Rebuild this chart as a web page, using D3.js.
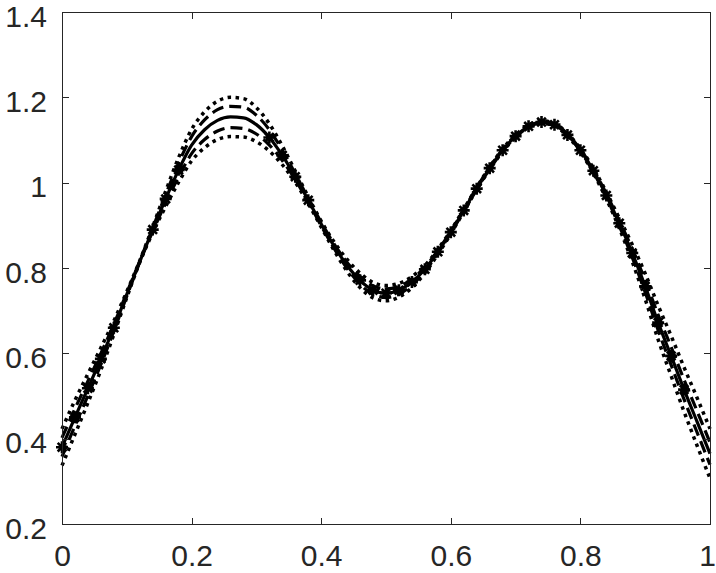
<!DOCTYPE html>
<html>
<head>
<meta charset="utf-8">
<script src="https://cdn.jsdelivr.net/npm/d3@7"></script>
<style>
  body { margin: 0; background: #fff; }
  text { font-family: "Liberation Sans", Arial, sans-serif; }
</style>
</head>
<body>
<div id="chart"></div>
<script>
// x positions of the curves
const xs = [0, 0.02, 0.04, 0.06, 0.08, 0.10, 0.12, 0.14, 0.16, 0.18,
  0.20, 0.22, 0.24, 0.26, 0.28, 0.30, 0.32, 0.34, 0.36, 0.38,
  0.40, 0.42, 0.44, 0.46, 0.48, 0.50, 0.52, 0.54, 0.56, 0.58,
  0.60, 0.62, 0.64, 0.66, 0.68, 0.70, 0.72, 0.74, 0.76, 0.78,
  0.80, 0.82, 0.84, 0.86, 0.88, 0.90, 0.92, 0.94, 0.96, 0.98, 1.00];

// solid line
const meanLine = [0.380, 0.450, 0.518, 0.587, 0.660, 0.738, 0.815, 0.890, 0.962, 1.030,
  1.088, 1.124, 1.146, 1.154, 1.152, 1.136, 1.106, 1.064, 1.014, 0.959,
  0.903, 0.851, 0.806, 0.771, 0.748, 0.741, 0.748, 0.767, 0.797, 0.838,
  0.884, 0.935, 0.986, 1.034, 1.076, 1.109, 1.132, 1.142, 1.136, 1.112,
  1.076, 1.028, 0.970, 0.905, 0.835, 0.757, 0.672, 0.594, 0.515, 0.440, 0.365];

// dashed lines
const dashUpper = [0.402, 0.470, 0.535, 0.600, 0.668, 0.742, 0.816, 0.894, 0.972, 1.046,
  1.108, 1.147, 1.171, 1.179, 1.177, 1.158, 1.124, 1.076, 1.021, 0.963,
  0.907, 0.856, 0.813, 0.780, 0.758, 0.751, 0.757, 0.774, 0.802, 0.841,
  0.886, 0.937, 0.988, 1.036, 1.078, 1.111, 1.134, 1.144, 1.138, 1.114,
  1.078, 1.031, 0.974, 0.911, 0.845, 0.771, 0.690, 0.615, 0.538, 0.465, 0.391];
const dashLower = [0.358, 0.430, 0.501, 0.574, 0.652, 0.734, 0.814, 0.886, 0.952, 1.014,
  1.068, 1.101, 1.121, 1.129, 1.127, 1.114, 1.088, 1.052, 1.007, 0.955,
  0.899, 0.846, 0.799, 0.762, 0.738, 0.731, 0.739, 0.760, 0.792, 0.835,
  0.882, 0.933, 0.984, 1.032, 1.074, 1.107, 1.130, 1.140, 1.134, 1.110,
  1.074, 1.025, 0.966, 0.899, 0.825, 0.743, 0.654, 0.573, 0.492, 0.415, 0.339];

// dotted lines
const dotUpper = [0.423, 0.490, 0.552, 0.613, 0.676, 0.745, 0.817, 0.897, 0.980, 1.059,
  1.125, 1.166, 1.191, 1.200, 1.197, 1.176, 1.138, 1.086, 1.027, 0.967,
  0.910, 0.861, 0.820, 0.788, 0.766, 0.759, 0.764, 0.780, 0.806, 0.844,
  0.888, 0.938, 0.989, 1.037, 1.079, 1.112, 1.135, 1.145, 1.139, 1.115,
  1.080, 1.034, 0.978, 0.917, 0.855, 0.787, 0.712, 0.641, 0.567, 0.496, 0.423];
const dotLower = [0.337, 0.410, 0.484, 0.561, 0.644, 0.731, 0.813, 0.883, 0.944, 1.001,
  1.051, 1.082, 1.101, 1.108, 1.107, 1.096, 1.074, 1.042, 1.001, 0.951,
  0.896, 0.841, 0.792, 0.754, 0.730, 0.723, 0.732, 0.754, 0.788, 0.832,
  0.880, 0.932, 0.983, 1.031, 1.073, 1.106, 1.129, 1.139, 1.133, 1.109,
  1.072, 1.022, 0.962, 0.893, 0.815, 0.727, 0.632, 0.547, 0.463, 0.384, 0.307];

// asterisk markers
const starX = [0, 0.02, 0.04, 0.06, 0.08, 0.14, 0.16, 0.18, 0.32, 0.34, 0.36, 0.38,
  0.46, 0.48, 0.50, 0.52, 0.54, 0.56, 0.58, 0.60, 0.62, 0.64, 0.66, 0.68, 0.70,
  0.72, 0.74, 0.76, 0.78, 0.80, 0.82, 0.84, 0.86, 0.88, 0.90, 0.92, 0.94, 0.96];
const starY = [0.380, 0.450, 0.518, 0.587, 0.660, 0.890, 0.962, 1.030, 1.106, 1.064, 1.014, 0.959,
  0.771, 0.748, 0.741, 0.748, 0.767, 0.797, 0.838, 0.884, 0.935, 0.986, 1.034, 1.076, 1.109,
  1.132, 1.142, 1.136, 1.112, 1.076, 1.028, 0.970, 0.905, 0.835, 0.757, 0.672, 0.594, 0.515];

const xTicks = [0, 0.2, 0.4, 0.6, 0.8, 1];
const xTickLabels = ["0", "0.2", "0.4", "0.6", "0.8", "1"];
const yTicks = [0.2, 0.4, 0.6, 0.8, 1, 1.2, 1.4];
const yTickLabels = ["0.2", "0.4", "0.6", "0.8", "1", "1.2", "1.4"];

const W = 716, H = 573;
const margin = { top: 12, right: 6, bottom: 49, left: 62 };
const width = W - margin.left - margin.right;
const height = H - margin.top - margin.bottom;
const axisColor = "#262626";

const svg = d3.select("#chart")
    .append("svg")
    .attr("width", W)
    .attr("height", H)
    .append("g")
    .attr("transform", `translate(${margin.left},${margin.top})`);

const x = d3.scaleLinear().domain([0, 1]).range([0, width]);
const y = d3.scaleLinear().domain([0.2, 1.4]).range([height, 0]);

// curves
const line = d3.line()
    .x((d, i) => x(xs[i]))
    .y(d => y(d))
    .curve(d3.curveMonotoneX);

const plot = svg.append("g");

plot.append("path").datum(meanLine)
    .attr("d", line).attr("fill", "none")
    .attr("stroke", "#000").attr("stroke-width", 3.2);

[dashUpper, dashLower].forEach(s => {
    plot.append("path").datum(s)
        .attr("d", line).attr("fill", "none")
        .attr("stroke", "#000").attr("stroke-width", 3.2)
        .attr("stroke-dasharray", "12,6");
});

[dotUpper, dotLower].forEach(s => {
    plot.append("path").datum(s)
        .attr("d", line).attr("fill", "none")
        .attr("stroke", "#000").attr("stroke-width", 3.5)
        .attr("stroke-dasharray", "3.5,4.5");
});

// asterisks
const r = 6, rd = r * 0.72;
const star = `M${-r},0L${r},0M0,${-r}L0,${r}M${-rd},${-rd}L${rd},${rd}M${-rd},${rd}L${rd},${-rd}`;
plot.selectAll(".star")
    .data(starX)
    .enter()
    .append("path")
    .attr("class", "star")
    .attr("transform", (d, i) => `translate(${x(d)},${y(starY[i])})`)
    .attr("d", star)
    .attr("stroke", "#000")
    .attr("stroke-width", 2.6)
    .attr("fill", "none");

// axes, MATLAB style: ticks inside, on all four sides
const tickLen = -6.5;

const gx = svg.append("g")
    .attr("transform", `translate(0,${height})`)
    .call(d3.axisBottom(x).tickValues(xTicks).tickFormat((d, i) => xTickLabels[i])
        .tickSizeInner(tickLen).tickSizeOuter(0).tickPadding(21));
const gy = svg.append("g")
    .call(d3.axisLeft(y).tickValues(yTicks).tickFormat((d, i) => yTickLabels[i])
        .tickSizeInner(tickLen).tickSizeOuter(0).tickPadding(15));
const gt = svg.append("g")
    .call(d3.axisTop(x).tickValues(xTicks).tickFormat("")
        .tickSizeInner(tickLen).tickSizeOuter(0));
const gr = svg.append("g")
    .attr("transform", `translate(${width},0)`)
    .call(d3.axisRight(y).tickValues(yTicks).tickFormat("")
        .tickSizeInner(tickLen).tickSizeOuter(0));

[gx, gy, gt, gr].forEach(g => {
    g.selectAll("path.domain").attr("stroke", axisColor).attr("stroke-width", 1)
        .attr("shape-rendering", "crispEdges");
    g.selectAll("line").attr("stroke", axisColor).attr("stroke-width", 1)
        .attr("shape-rendering", "crispEdges");
    g.selectAll("text")
        .attr("fill", axisColor)
        .style("font-size", "30px")
        .style("font-family", "'Liberation Sans', Arial, sans-serif");
});
gy.selectAll("text").attr("dy", "0.47em");
// keep the last x label inside the window
gx.selectAll("text").filter(d => d === 1).attr("dx", "-3");
</script>
</body>
</html>
